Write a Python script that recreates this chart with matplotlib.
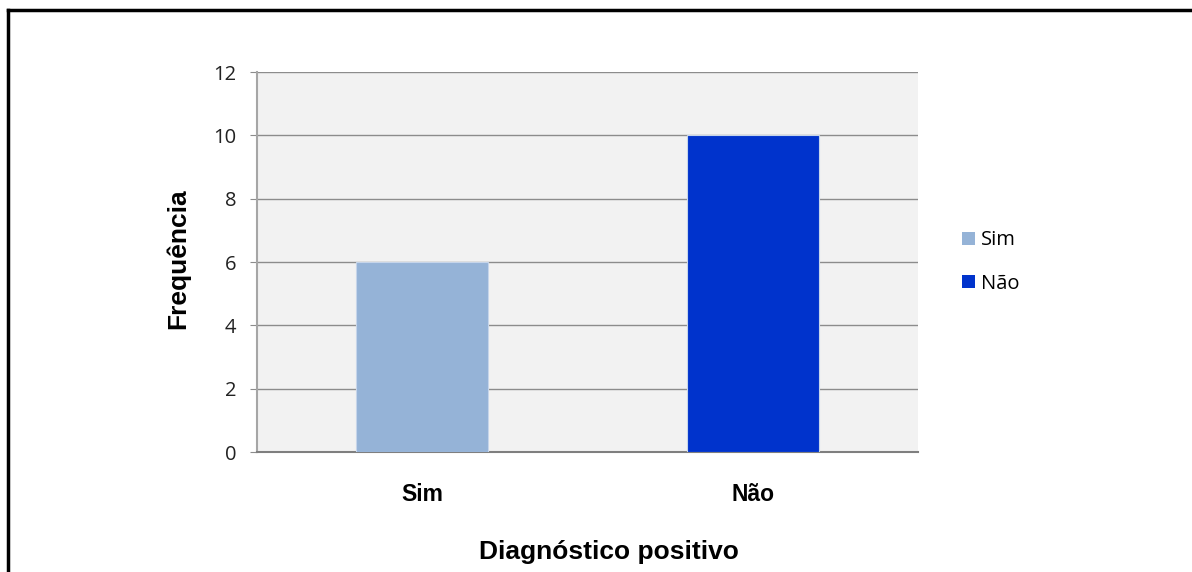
import matplotlib
matplotlib.use("Agg")
import matplotlib.pyplot as plt
from matplotlib.patches import Patch
from matplotlib.lines import Line2D

categories = ["Sim", "Não"]
values = [6, 10]
colors = ["#95B3D7", "#0033CC"]
yticks = [0, 2, 4, 6, 8, 10, 12]

fig = plt.figure(figsize=(11.92, 5.72), dpi=100)
W, H = 1192, 572
ax = fig.add_axes([257 / W, 1 - 452 / H, (918 - 257) / W, (452 - 72) / H])
ax.set_facecolor("#F2F2F2")

x = list(range(len(categories)))
ax.bar(x, values, width=0.4, color=colors, edgecolor="#C6D5EA", linewidth=0.8, zorder=3)
ax.set_xlim(-0.5, 1.5)
ax.set_ylim(0, 12)
ax.set_yticks(yticks)
ax.set_yticklabels([str(t) for t in yticks], fontsize=14.5, family="Open Sans", color="#222222")
ax.grid(axis="y", color="#8C8C8C", linewidth=1.0, zorder=1)
ax.tick_params(axis="y", length=5, color="#8C8C8C", pad=10)
ax.tick_params(axis="x", length=0, pad=22)
ax.set_xticks(x)
ax.set_xticklabels(categories, fontsize=16.5, fontweight="bold", family="Liberation Sans")

for s in ["top", "right"]:
    ax.spines[s].set_visible(False)
ax.spines["left"].set_color("#A6A6A6")
ax.spines["left"].set_linewidth(1.5)
ax.spines["bottom"].set_color("#7F7F7F")
ax.spines["bottom"].set_linewidth(1.5)

fig.text(609 / W, 1 - 552 / H, "Diagnóstico positivo", fontsize=19, fontweight="bold",
         family="Liberation Sans", ha="center", va="center")
fig.text(178 / W, 1 - 259 / H, "Frequência", fontsize=19, fontweight="bold",
         family="Liberation Sans", ha="center", va="center", rotation=90)

handles = [Patch(facecolor=c, edgecolor="none") for c in colors]
leg = fig.legend(handles, categories, loc="center left", bbox_to_anchor=(944 / W, 1 - 262 / H),
                 frameon=False, prop={"family": "Open Sans", "size": 14.5},
                 handlelength=0.65, handleheight=0.65, handletextpad=0.3, labelspacing=1.15)

# figure border (left and top)
fig.add_artist(Line2D([8 / W, 8 / W], [1 - 572 / H, 1 - 10 / H], transform=fig.transFigure,
                      color="black", linewidth=2.5))
fig.add_artist(Line2D([8 / W, 1.0], [1 - 10 / H, 1 - 10 / H], transform=fig.transFigure,
                      color="black", linewidth=2.5))

fig.savefig("out.png", dpi=100)
